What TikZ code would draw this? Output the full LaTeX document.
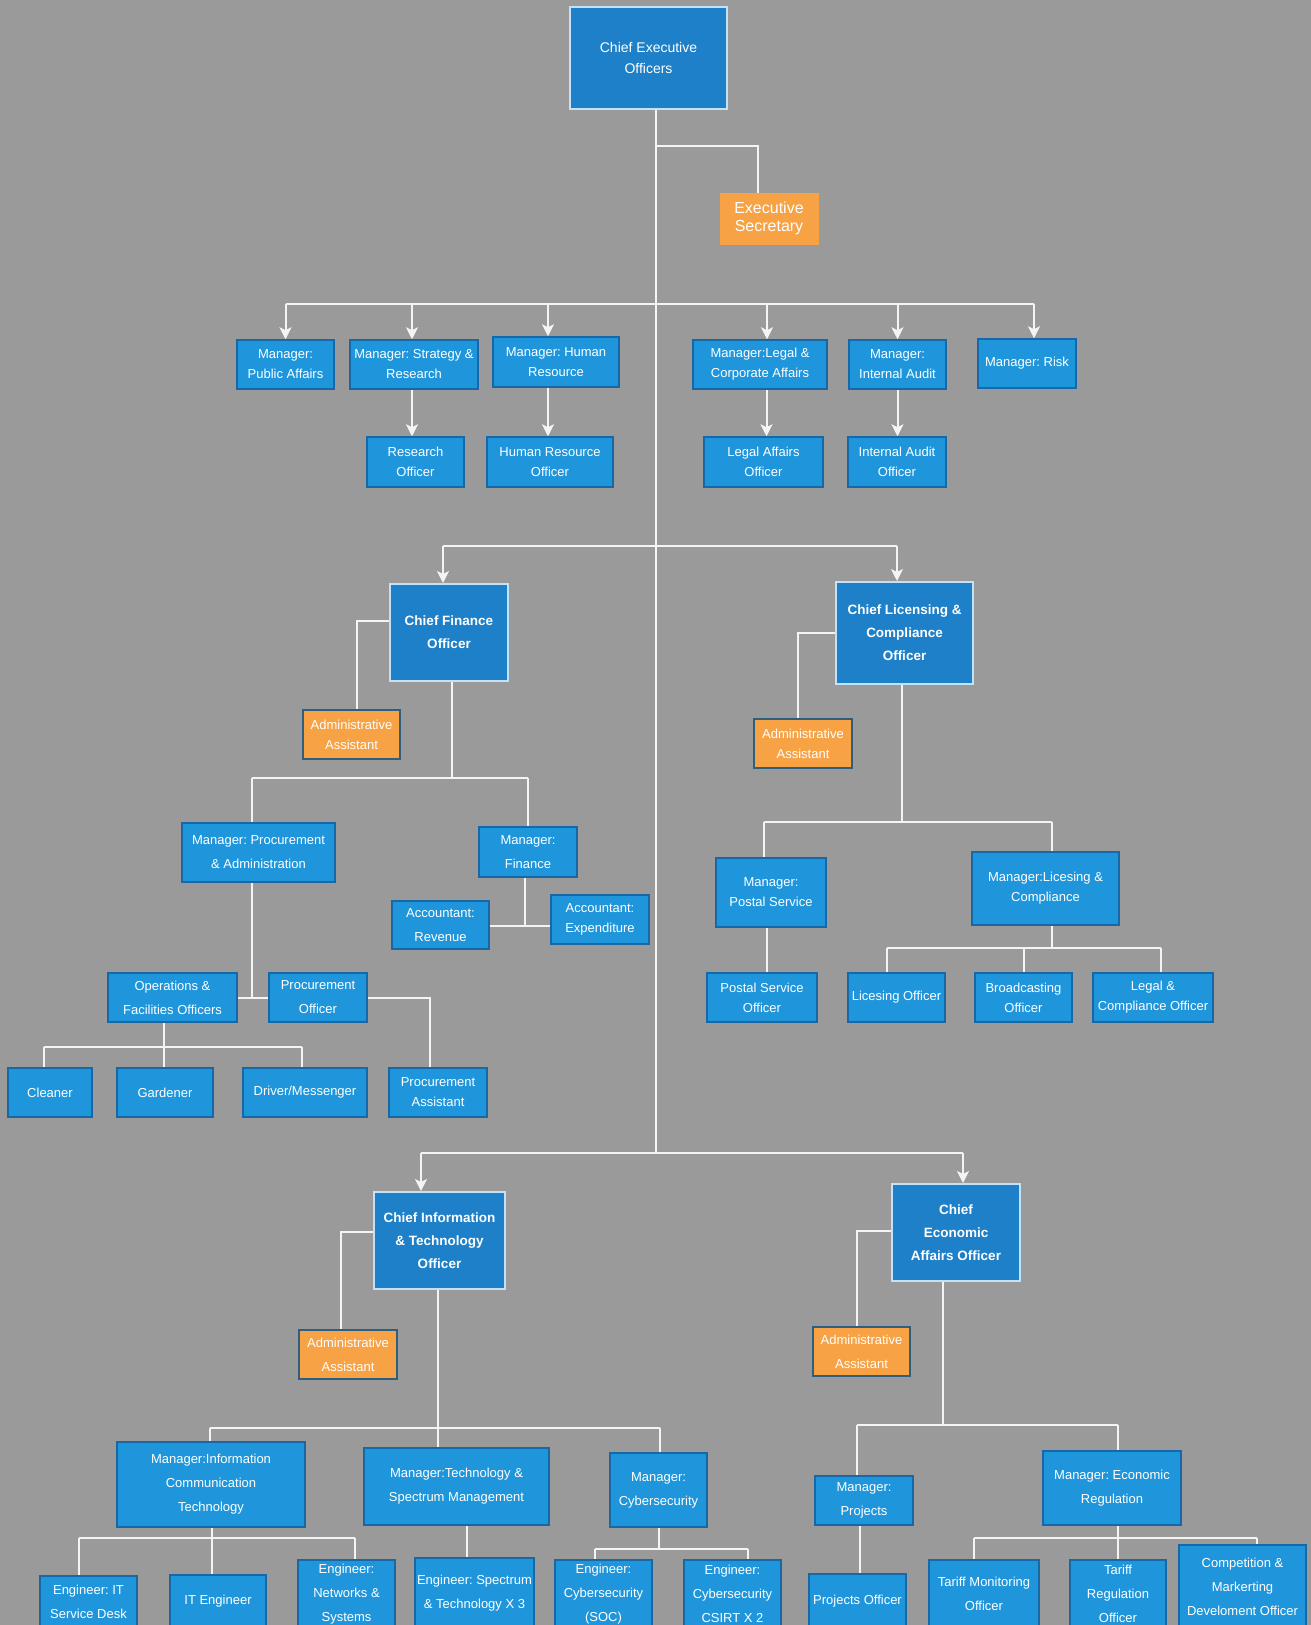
\documentclass[tikz,border=0pt]{standalone}
\usepackage{fontspec}
\setmainfont{Liberation Sans}
\usetikzlibrary{arrows.meta}
\frenchspacing
\definecolor{bg}{HTML}{9A9A9A}
\definecolor{boxfill}{HTML}{1F96DB}
\definecolor{boxline}{HTML}{1768A6}
\definecolor{chieffill}{HTML}{1E80C8}
\definecolor{chiefline}{HTML}{C4E2F7}
\definecolor{orangefill}{HTML}{F6A245}
\definecolor{orangeline}{HTML}{2F5E7E}
\definecolor{wire}{HTML}{F4F4F4}
\newcommand\mkbox[6]{\node[#1, minimum width={(#4-#2)*1pt}, minimum height={(#5-#3)*1pt}] (#6) at ({(#2+#4)/2},{(#3+#5)/2})}
\tikzset{
  base/.style={rectangle, inner sep=0pt, align=center, text=white, font=\frenchspacing\fontsize{13}{20}\selectfont},
  unit/.style={base, fill=boxfill, draw=boxline, line width=1.5pt},
  chief/.style={base, fill=chieffill, draw=chiefline, line width=2pt, font=\frenchspacing\fontsize{13.5}{23}\selectfont\bfseries},
  ceostyle/.style={chief, font=\frenchspacing\fontsize{14}{21}\selectfont},
  helper/.style={base, fill=orangefill, draw=orangeline, line width=1.5pt},
  sectstyle/.style={base, fill=orangefill, draw=orangefill, font=\frenchspacing\fontsize{16}{18}\selectfont},
  wide/.style={font=\frenchspacing\fontsize{13}{24}\selectfont},
  wire/.style={draw=wire, line width=2pt},
  arr/.style={wire, -{Stealth[length=12pt, width=12pt, inset=3pt]}}
}
\begin{document}
\begin{tikzpicture}[x=1pt, y=-1pt]
\fill[bg] (0,0) rectangle (1311,1625);
\useasboundingbox (0,0) rectangle (1311,1625);
\clip (0,0) rectangle (1311,1625);

% trunk coordinates
\coordinate (t0) at (656,146);
\coordinate (t1) at (656,304);
\coordinate (t2) at (656,546);
\coordinate (t3) at (656,1153);

% ---------- nodes ----------
\mkbox{ceostyle}{570}{7}{727}{109}{ceo} {Chief Executive\\Officers};
\mkbox{sectstyle}{720}{193}{818}{244}{sec} {Executive\\Secretary};

\mkbox{unit}{237}{340}{334}{389}{pa} {Manager:\\Public Affairs};
\mkbox{unit}{350}{340}{478}{389}{sr} {Manager: Strategy \&\\Research};
\mkbox{unit}{493}{337}{619}{387}{hr} {Manager: Human\\Resource};
\mkbox{unit}{693}{340}{827}{389}{lc} {Manager:Legal \&\\Corporate Affairs};
\mkbox{unit}{849}{340}{946}{389}{ia} {Manager:\\Internal Audit};
\mkbox{unit}{978}{339}{1076}{388}{rk} {Manager: Risk};
\mkbox{unit}{367}{437}{464}{487}{ro} {Research\\Officer};
\mkbox{unit}{487}{437}{613}{487}{hro} {Human Resource\\Officer};
\mkbox{unit}{704}{437}{823}{487}{lao} {Legal Affairs\\Officer};
\mkbox{unit}{848}{437}{946}{487}{iao} {Internal Audit\\Officer};

\mkbox{chief}{390}{584}{508}{681}{cfo} {Chief Finance\\Officer};
\mkbox{helper}{303}{710}{400}{759}{aa1} {Administrative\\Assistant};
\mkbox{chief}{836}{582}{973}{684}{clco} {Chief Licensing \&\\Compliance\\Officer};
\mkbox{helper}{754}{719}{852}{768}{aa2} {Administrative\\Assistant};

\mkbox{unit, wide}{182}{823}{335}{882}{mpa} {Manager: Procurement\\\& Administration};
\mkbox{unit, wide}{479}{827}{577}{877}{mfin} {Manager:\\Finance};
\mkbox{unit, wide}{392}{901}{489}{949}{arev} {Accountant:\\Revenue};
\mkbox{unit}{551}{895}{649}{944}{aexp} {Accountant:\\Expenditure};
\mkbox{unit, wide}{108}{973}{237}{1022}{ops} {Operations \&\\Facilities Officers};
\mkbox{unit, wide}{269}{973}{367}{1022}{po} {Procurement\\Officer};
\mkbox{unit}{8}{1068}{92}{1117}{cln} {Cleaner};
\mkbox{unit}{117}{1068}{213}{1117}{gdn} {Gardener};
\mkbox{unit}{243}{1068}{367}{1117}{drv} {Driver/Messenger};
\mkbox{unit}{389}{1068}{487}{1117}{pas} {Procurement\\Assistant};

\mkbox{unit}{716}{858}{826}{927}{mps} {Manager:\\Postal Service};
\mkbox{unit}{972}{852}{1119}{925}{mlc} {Manager:Licesing \&\\Compliance};
\mkbox{unit}{707}{973}{817}{1022}{pso} {Postal Service\\Officer};
\mkbox{unit}{848}{973}{945}{1022}{lio} {Licesing Officer};
\mkbox{unit}{975}{973}{1072}{1022}{bro} {Broadcasting\\Officer};
\mkbox{unit}{1093}{973}{1213}{1022}{lco} {Legal \&\\Compliance Officer};

\mkbox{chief}{374}{1192}{505}{1289}{cito} {Chief Information\\\& Technology\\Officer};
\mkbox{helper, wide}{299}{1330}{397}{1379}{aa3} {Administrative\\Assistant};
\mkbox{chief}{892}{1184}{1020}{1281}{ceao} {Chief\\Economic\\Affairs Officer};
\mkbox{helper, wide}{813}{1327}{910}{1376}{aa4} {Administrative\\Assistant};

\mkbox{unit, wide}{117}{1442}{305}{1527}{mict} {Manager:Information\\Communication\\Technology};
\mkbox{unit, wide}{364}{1448}{549}{1525}{mts} {Manager:Technology \&\\Spectrum Management};
\mkbox{unit, wide}{610}{1453}{707}{1527}{mcy} {Manager:\\Cybersecurity};
\mkbox{unit, wide}{40}{1576}{137}{1628}{eit} {Engineer: IT\\Service Desk};
\mkbox{unit, wide}{170}{1575}{266}{1628}{ite} {IT Engineer};
\mkbox{unit, wide}{298}{1560}{395}{1628}{enw} {Engineer:\\Networks \&\\Systems};
\mkbox{unit, wide}{415}{1558}{534}{1628}{esp} {Engineer: Spectrum\\\& Technology X 3};
\mkbox{unit, wide}{555}{1560}{652}{1628}{esoc} {Engineer:\\Cybersecurity\\(SOC)};
\mkbox{unit, wide}{684}{1560}{781}{1628}{ecs} {Engineer:\\Cybersecurity\\CSIRT X 2};

\mkbox{unit, wide}{815}{1476}{913}{1525}{mpj} {Manager:\\Projects};
\mkbox{unit, wide}{1043}{1451}{1181}{1525}{mer} {Manager: Economic\\Regulation};
\mkbox{unit, wide}{809}{1574}{906}{1628}{pjo} {Projects Officer};
\mkbox{unit, wide}{929}{1560}{1039}{1628}{tmo} {Tariff Monitoring\\Officer};
\mkbox{unit, wide}{1070}{1560}{1166}{1628}{tro} {Tariff\\Regulation\\Officer};
\mkbox{unit, wide}{1179}{1545}{1306}{1628}{cmo} {Competition \&\\Markerting\\Develoment Officer};

% ---------- connectors ----------
% trunk
\draw[wire] (ceo.south -| t3) -- (t3);
\draw[wire] (t0) -| ([xshift=-11pt]sec.north);

% top managers
\draw[wire] (pa.north |- t1) -- ([xshift=7pt]rk.north |- t1);
\draw[arr] (pa.north |- t1) -- (pa.north);
\draw[arr] ([xshift=-2pt]sr.north |- t1) -- ([xshift=-2pt]sr.north);
\draw[arr] ([xshift=-8pt]hr.north |- t1) -- ([xshift=-8pt]hr.north);
\draw[arr] ([xshift=7pt]lc.north |- t1) -- ([xshift=7pt]lc.north);
\draw[arr] (ia.north |- t1) -- (ia.north);
\draw[arr] ([xshift=7pt]rk.north |- t1) -- ([xshift=7pt]rk.north);

\draw[arr] ([xshift=-2pt]sr.south) -- ([xshift=-2pt]sr.south |- ro.north);
\draw[arr] ([xshift=-2pt]hro.north |- hr.south) -- ([xshift=-2pt]hro.north);
\draw[arr] ([xshift=3pt]lao.north |- lc.south) -- ([xshift=3pt]lao.north);
\draw[arr] (ia.south) -- (ia.south |- iao.north);

% second level
\draw[wire] ([xshift=-6pt]cfo.north |- t2) -- ([xshift=-7.5pt]clco.north |- t2);
\draw[arr] ([xshift=-6pt]cfo.north |- t2) -- ([xshift=-6pt]cfo.north);
\draw[arr] ([xshift=-7.5pt]clco.north |- t2) -- ([xshift=-7.5pt]clco.north);

% finance branch
\draw[wire] ([yshift=11.5pt]cfo.west) -| ([xshift=5.5pt]aa1.north);
\coordinate (fa) at (452,778);
\draw[wire] (cfo.south -| fa) -- (fa);
\draw[wire] ([xshift=-6.5pt]mpa.north |- fa) -- (mfin.north |- fa);
\draw[wire] ([xshift=-6.5pt]mpa.north |- fa) -- ([xshift=-6.5pt]mpa.north);
\draw[wire] (mfin.north |- fa) -- (mfin.north);
\coordinate (fj) at (525,926);
\draw[wire] (mfin.south -| fj) -- (fj);
\draw[wire] (arev.east |- fj) -- (aexp.west |- fj);
\coordinate (pj) at (252,998);
\draw[wire] (mpa.south -| pj) -- (pj);
\draw[wire] (ops.east |- pj) -- (po.west |- pj);
\draw[wire] (po.east |- pj) -| ([xshift=-8pt]pas.north);
\coordinate (oj) at (164,1047);
\draw[wire] (ops.south -| oj) -- (gdn.north -| oj);
\draw[wire] ([xshift=-6pt]cln.north |- oj) -- ([xshift=-3pt]drv.north |- oj);
\draw[wire] ([xshift=-6pt]cln.north |- oj) -- ([xshift=-6pt]cln.north);
\draw[wire] ([xshift=-3pt]drv.north |- oj) -- ([xshift=-3pt]drv.north);

% licensing branch
\draw[wire] (clco.west) -| ([xshift=-5pt]aa2.north);
\coordinate (lj) at (902,822);
\draw[wire] (clco.south -| lj) -- (lj);
\draw[wire] ([xshift=-7pt]mps.north |- lj) -- ([xshift=6.5pt]mlc.north |- lj);
\draw[wire] ([xshift=-7pt]mps.north |- lj) -- ([xshift=-7pt]mps.north);
\draw[wire] ([xshift=6.5pt]mlc.north |- lj) -- ([xshift=6.5pt]mlc.north);
\draw[wire] ([xshift=-4pt]mps.south) -- ([xshift=-4pt]mps.south |- pso.north);
\coordinate (cj) at (1052,948);
\draw[wire] (mlc.south -| cj) -- (cj);
\draw[wire] ([xshift=-9.5pt]lio.north |- cj) -- ([xshift=8pt]lco.north |- cj);
\draw[wire] ([xshift=-9.5pt]lio.north |- cj) -- ([xshift=-9.5pt]lio.north);
\draw[wire] (bro.north |- cj) -- (bro.north);
\draw[wire] ([xshift=8pt]lco.north |- cj) -- ([xshift=8pt]lco.north);

% bottom level
\draw[wire] ([xshift=-18.5pt]cito.north |- t3) -- ([xshift=7pt]ceao.north |- t3);
\draw[arr] ([xshift=-18.5pt]cito.north |- t3) -- ([xshift=-18.5pt]cito.north);
\draw[arr] ([xshift=7pt]ceao.north |- t3) -- ([xshift=7pt]ceao.north);

% ICT branch
\draw[wire] ([yshift=8.5pt]cito.west) -| ([xshift=-7pt]aa3.north);
\coordinate (ij) at (438,1428);
\draw[wire] (cito.south -| ij) -- (ij);
\draw[wire] ([xshift=-1pt]mict.north |- ij) -- ([xshift=1.5pt]mcy.north |- ij);
\draw[wire] ([xshift=-1pt]mict.north |- ij) -- ([xshift=-1pt]mict.north);
\draw[wire] (ij) -- (mts.north -| ij);
\draw[wire] ([xshift=1.5pt]mcy.north |- ij) -- ([xshift=1.5pt]mcy.north);
\coordinate (kj) at (212,1538);
\draw[wire] (mict.south -| kj) -- (ite.north -| kj);
\draw[wire] ([xshift=-9.5pt]eit.north |- kj) -- ([xshift=8.5pt]enw.north |- kj);
\draw[wire] ([xshift=-9.5pt]eit.north |- kj) -- ([xshift=-9.5pt]eit.north);
\draw[wire] ([xshift=8.5pt]enw.north |- kj) -- ([xshift=8.5pt]enw.north);
\draw[wire] ([xshift=-7.5pt]esp.north |- mts.south) -- ([xshift=-7.5pt]esp.north);
\coordinate (yj) at (659,1549);
\draw[wire] (mcy.south -| yj) -- (yj);
\draw[wire] ([xshift=-8.5pt]esoc.north |- yj) -- ([xshift=15.5pt]ecs.north |- yj);
\draw[wire] ([xshift=-8.5pt]esoc.north |- yj) -- ([xshift=-8.5pt]esoc.north);
\draw[wire] ([xshift=15.5pt]ecs.north |- yj) -- ([xshift=15.5pt]ecs.north);

% economic branch
\draw[wire] ([yshift=1.5pt]ceao.west) -| ([xshift=-4.5pt]aa4.north);
\coordinate (ej) at (943,1425);
\draw[wire] (ceao.south -| ej) -- (ej);
\draw[wire] ([xshift=-7pt]mpj.north |- ej) -- ([xshift=6pt]mer.north |- ej);
\draw[wire] ([xshift=-7pt]mpj.north |- ej) -- ([xshift=-7pt]mpj.north);
\draw[wire] ([xshift=6pt]mer.north |- ej) -- ([xshift=6pt]mer.north);
\draw[wire] ([xshift=-4pt]mpj.south) -- ([xshift=-4pt]mpj.south |- pjo.north);
\coordinate (rj) at (1118,1538);
\draw[wire] (mer.south -| rj) -- (tro.north -| rj);
\draw[wire] ([xshift=-10pt]tmo.north |- rj) -- ([xshift=14.5pt]cmo.north |- rj);
\draw[wire] ([xshift=-10pt]tmo.north |- rj) -- ([xshift=-10pt]tmo.north);
\draw[wire] ([xshift=14.5pt]cmo.north |- rj) -- ([xshift=14.5pt]cmo.north);
\end{tikzpicture}
\end{document}
